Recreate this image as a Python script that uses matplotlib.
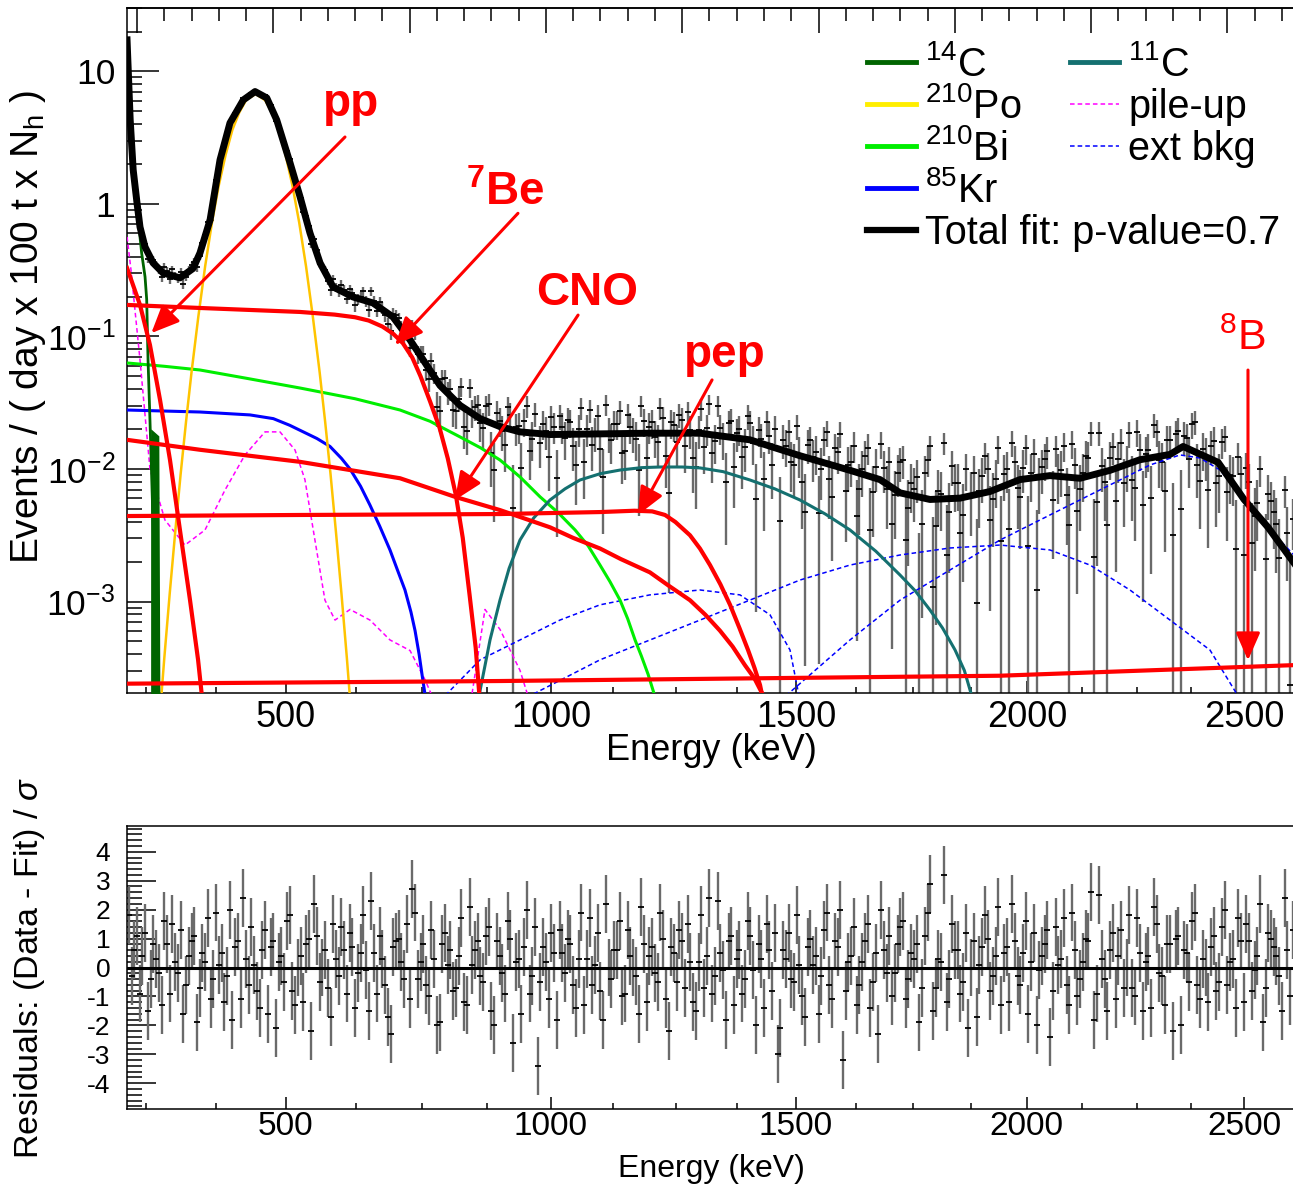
import numpy as np
import matplotlib
matplotlib.use('Agg')
import matplotlib.pyplot as plt
from matplotlib.lines import Line2D
from matplotlib.ticker import FixedLocator, FixedFormatter, NullFormatter

plt.rcParams['font.family'] = ['Liberation Sans', 'DejaVu Sans']
plt.rcParams['mathtext.fontset'] = 'custom'
plt.rcParams['mathtext.rm'] = 'Liberation Sans'
plt.rcParams['mathtext.it'] = 'Liberation Sans:italic'
plt.rcParams['mathtext.bf'] = 'Liberation Sans:bold'
plt.rcParams['mathtext.sf'] = 'Liberation Sans'
plt.rcParams['axes.unicode_minus'] = False

# ---------------- energy axis (labels placed at N_h positions) ----------------
energy_major = [500, 1000, 1500, 2000, 2500]
energy_major_nh = [209.1, 403.7, 583.5, 752.8, 912.2]
energy_minor = [250, 375, 625, 750, 875, 1125, 1250, 1375, 1625, 1750, 1875, 2125, 2250, 2375]
energy_minor_nh = [106.4, 158.2, 260.5, 309.1, 357.0, 449.5, 495.2, 540.0, 627.5, 669.1, 711.9,
                   793.1, 833.5, 873.1]

# ---------------- total fit (N_h, log10 value) ----------------
fit_nh = [92.7, 95.0, 97.2, 100.0, 102.2, 105.9, 111.8, 119.1, 131.5, 141.1, 146.2, 153.6, 160.9,
          168.2, 178.0, 186.6, 195.2, 202.5, 212.3, 219.6, 226.9, 234.3, 243.8, 258.5, 273.1, 287.8,
          300.3, 307.6, 322.3, 337.0, 351.7, 366.3, 381.0, 403.0, 439.7, 476.3, 513.1, 549.7, 586.4,
          623.1, 645.1, 659.8, 681.8, 703.8, 725.8, 747.8, 769.8, 791.9, 813.9, 835.9, 857.9, 867.5,
          893.2, 912.2, 929.8, 948.9]
fit_log10 = [1.238, 0.634, 0.257, 0.008, -0.174, -0.325, -0.445, -0.521, -0.558, -0.487, -0.370,
             -0.121, 0.332, 0.611, 0.785, 0.848, 0.800, 0.634, 0.309, 0.055, -0.219, -0.445, -0.626,
             -0.702, -0.747, -0.853, -1.026, -1.14, -1.37, -1.52, -1.62, -1.68, -1.72, -1.74, -1.735,
             -1.73, -1.73, -1.78, -1.90, -2.01, -2.08, -2.18, -2.23, -2.22, -2.17, -2.08, -2.05, -2.07,
             -2.01, -1.93, -1.89, -1.83, -1.95, -2.23, -2.44, -2.71]

# ---------------- data bins: two interleaved sets, each every 4 N_h ----------------
# set A at N_h = 94 + 4 i, set B at N_h = 96 + 4 i : fit value (log10) and residual per bin
bin_fit_log10_a = [
    0.90, 0.19, -0.16, -0.33, -0.41, -0.47, -0.51, -0.53, -0.54, -0.555,
    -0.55, -0.51, -0.47, -0.375, -0.24, -0.10, 0.15, 0.37, 0.53, 0.64,
    0.715, 0.785, 0.815, 0.845, 0.835, 0.81, 0.74, 0.645, 0.52, 0.385,
    0.25, 0.11, -0.035, -0.185, -0.315, -0.435, -0.515, -0.59, -0.638, -0.658,
    -0.678, -0.70, -0.713, -0.725, -0.737, -0.753, -0.782, -0.811, -0.84, -0.88,
    -0.94, -0.99, -1.05, -1.11, -1.18, -1.24, -1.30, -1.365, -1.41, -1.45,
    -1.49, -1.525, -1.55, -1.58, -1.61, -1.63, -1.645, -1.665, -1.68, -1.69,
    -1.70, -1.71, -1.72, -1.725, -1.73, -1.735, -1.74, -1.74, -1.74, -1.74,
    -1.74, -1.74, -1.735, -1.735, -1.735, -1.735, -1.735, -1.735, -1.73, -1.73,
    -1.73, -1.73, -1.73, -1.73, -1.73, -1.73, -1.73, -1.73, -1.73, -1.73,
    -1.73, -1.73, -1.73, -1.73, -1.73, -1.73, -1.74, -1.745, -1.75, -1.755,
    -1.76, -1.765, -1.77, -1.775, -1.78, -1.795, -1.81, -1.82, -1.835, -1.85,
    -1.86, -1.875, -1.885, -1.90, -1.91, -1.92, -1.935, -1.945, -1.96, -1.97,
    -1.98, -1.995, -2.005, -2.02, -2.03, -2.045, -2.06, -2.07, -2.085, -2.11,
    -2.14, -2.17, -2.185, -2.20, -2.21, -2.215, -2.225, -2.23, -2.23, -2.23,
    -2.225, -2.225, -2.22, -2.215, -2.205, -2.195, -2.19, -2.18, -2.17, -2.15,
    -2.135, -2.12, -2.10, -2.085, -2.075, -2.07, -2.065, -2.06, -2.055, -2.05,
    -2.055, -2.06, -2.065, -2.07, -2.07, -2.065, -2.055, -2.045, -2.035, -2.02,
    -2.01, -1.995, -1.98, -1.965, -1.95, -1.935, -1.925, -1.915, -1.91, -1.90,
    -1.895, -1.89, -1.86, -1.835, -1.835, -1.85, -1.87, -1.89, -1.91, -1.935,
    -1.96, -2.02, -2.08, -2.14, -2.20, -2.25, -2.30, -2.35, -2.40, -2.44,
    -2.50, -2.56, -2.63, -2.69]

bin_fit_log10_b = [
    0.45, 0.01, -0.25, -0.37, -0.445, -0.49, -0.52, -0.535, -0.548, -0.555,
    -0.53, -0.49, -0.42, -0.31, -0.17, 0.02, 0.26, 0.45, 0.585, 0.68,
    0.75, 0.80, 0.83, 0.845, 0.825, 0.78, 0.695, 0.585, 0.455, 0.32,
    0.18, 0.04, -0.11, -0.25, -0.375, -0.475, -0.555, -0.615, -0.648, -0.668,
    -0.689, -0.706, -0.719, -0.731, -0.745, -0.767, -0.796, -0.825, -0.86, -0.91,
    -0.965, -1.02, -1.08, -1.145, -1.21, -1.27, -1.333, -1.387, -1.43, -1.47,
    -1.508, -1.537, -1.565, -1.595, -1.62, -1.638, -1.655, -1.672, -1.685, -1.695,
    -1.705, -1.715, -1.722, -1.728, -1.732, -1.738, -1.74, -1.74, -1.74, -1.74,
    -1.74, -1.738, -1.735, -1.735, -1.735, -1.735, -1.735, -1.732, -1.73, -1.73,
    -1.73, -1.73, -1.73, -1.73, -1.73, -1.73, -1.73, -1.73, -1.73, -1.73,
    -1.73, -1.73, -1.73, -1.73, -1.73, -1.735, -1.742, -1.748, -1.752, -1.757,
    -1.762, -1.767, -1.772, -1.777, -1.787, -1.802, -1.815, -1.827, -1.842, -1.855,
    -1.867, -1.88, -1.892, -1.905, -1.915, -1.927, -1.94, -1.952, -1.965, -1.975,
    -1.987, -2.0, -2.012, -2.025, -2.037, -2.052, -2.065, -2.077, -2.097, -2.125,
    -2.155, -2.177, -2.192, -2.205, -2.212, -2.22, -2.228, -2.23, -2.23, -2.228,
    -2.225, -2.222, -2.217, -2.21, -2.2, -2.192, -2.185, -2.175, -2.16, -2.142,
    -2.127, -2.11, -2.092, -2.08, -2.072, -2.067, -2.062, -2.057, -2.052, -2.052,
    -2.057, -2.062, -2.067, -2.07, -2.067, -2.06, -2.05, -2.04, -2.027, -2.015,
    -2.002, -1.987, -1.972, -1.957, -1.942, -1.93, -1.92, -1.912, -1.905, -1.897,
    -1.892, -1.875, -1.847, -1.832, -1.842, -1.86, -1.88, -1.90, -1.922, -1.947,
    -1.99, -2.05, -2.11, -2.17, -2.225, -2.275, -2.325, -2.375, -2.42, -2.47,
    -2.53, -2.595, -2.66, -2.72]

residuals_a = [
    1.8, 0.6, -0.9, 1.2, -0.4, 0.3, -1.3, 0.8, 1.5, -0.2, -1.6, 0.4, 1.1, -0.7, 0.2, -1.1, 1.9, 0.5, -0.3, -1.8,
    0.9, 2.4, -0.6, 0.1, -1.4, 1.3, 0.7, -2.1, 0.4, 1.6, -0.8, 0.0, -1.2, 1.0, 2.2, -0.5, 0.6, -1.7, 0.3, 1.4,
    -0.9, 0.7, -0.2, 1.8, -1.5, 0.5, 1.1, -0.6, -2.3, 0.9, 0.2, 1.5, 2.7, -0.4, 0.8, -1.0, 0.3, -1.9, 1.2, 0.6,
    -0.7, 1.7, -1.3, 0.1, 0.9, -0.5, 1.4, -2.0, 0.4, -0.9, 1.0, 0.2, -1.6, 2.0, -0.3, -3.4, 0.7, -1.1, 0.5, 1.3,
    -0.2, 0.8, -1.4, 1.9, 0.3, -0.6, 1.2, -1.8, 0.0, 0.6, 1.6, -0.9, 0.4, -0.3, 2.1, -1.2, 0.7, -0.5, 1.0, -2.2,
    0.5, 1.3, -0.7, 0.2, -1.5, 1.8, 0.4, -0.9, 2.3, -0.1, 0.9, -1.3, 0.6, -0.4, 1.1, -2.0, 0.3, 1.5, -0.8, -3.0,
    0.6, 1.2, -0.5, 0.1, -1.7, 1.0, 0.4, -0.3, 1.9, -1.1, 0.7, -3.2, 0.2, 1.4, -0.6, 0.9, -1.4, 0.5, 2.0, -0.2,
    -1.0, 0.8, 1.6, -0.4, 0.3, -1.9, 1.1, 2.9, -0.7, 0.2, -1.2, 1.5, 0.6, -0.5, -2.1, 0.9, 0.1, 1.8, -0.8, 0.4,
    -1.3, 0.7, 2.2, -0.3, 0.5, -1.6, 1.2, -0.1, 0.8, -2.4, 1.4, 0.3, -0.6, 1.9, -1.0, 0.2, 0.9, -1.8, 2.5, -0.4,
    0.6, -1.1, 1.3, 0.0, -0.7, 1.7, -1.5, 0.4, 2.1, -0.2, -1.3, 0.8, 1.0, -2.0, 0.5, 1.6, -0.6, 0.3, -1.2, 1.1,
    -0.5, 2.0, 0.2, -1.4, 0.9, 1.5, -0.8, 0.4, -1.9, 1.2, 0.7, -0.3, 2.4, -1.0]

residuals_b = [
    -0.3, 1.1, 0.4, -1.5, 0.8, -0.2, 1.6, -0.9, 0.2, 1.3, -0.6, 0.9, -1.9, 0.5, 1.7, -0.4, 0.1, -1.2, 2.0, 0.7,
    -1.1, 0.3, 1.4, -0.8, 0.6, -1.6, 0.9, 0.2, -0.5, 1.8, -1.3, 0.4, 0.8, -2.2, 1.1, 0.0, -0.7, 1.5, -0.3, 0.6,
    1.2, -1.4, 0.5, -0.1, 2.3, -0.9, 0.3, -1.7, 0.7, 1.0, -0.4, -1.1, 1.9, 0.2, -0.6, 1.3, -2.0, 0.8, 0.1, -0.8,
    0.4, -1.2, 2.1, 0.6, -0.3, 1.1, -1.5, 0.9, -0.2, 1.6, -2.6, 0.3, 0.7, -0.9, 1.4, -0.5, 0.2, 1.2, -1.8, 0.5,
    1.0, -0.6, 0.3, -1.3, 1.7, 0.1, -0.8, 2.2, -0.4, 0.6, -1.0, 1.3, 0.0, -1.6, 0.8, 0.4, -0.2, 1.9, -1.1, 0.7,
    -0.5, 0.9, 1.5, -1.2, 0.2, -0.7, 2.4, -0.3, 0.5, -1.8, 1.1, 0.3, -0.9, 1.6, -0.1, 0.8, -1.4, 0.6, 1.2, -2.1,
    0.3, -0.4, 1.8, -1.0, 0.7, 0.1, -1.6, 1.3, -0.6, 0.9, 2.0, -0.8, 0.4, -1.3, 0.2, 1.5, -0.5, -2.3, 0.6, 1.1,
    -0.2, 1.4, -1.1, 0.5, 0.8, -0.7, 1.9, -1.5, 0.3, 3.2, -0.4, 0.6, -0.9, 1.2, 0.0, -1.7, 0.7, 1.0, -0.3, 2.1,
    0.5, -1.2, 0.9, -0.6, 1.6, 0.2, -2.0, 0.4, 1.3, -0.8, 0.1, 1.7, -1.3, 0.6, -0.4, 1.0, 2.6, -0.9, 0.3, -1.5,
    1.2, 0.4, -0.7, 1.8, -1.0, 0.5, 0.2, -1.4, 1.5, -0.3, 0.8, -2.2, 1.1, 0.6, -0.5, 1.9, -1.1, 0.0, 0.7, -0.8,
    1.4, -0.6, 0.3, 1.7, -1.2, 0.9, -0.1, 2.2, -0.7, 1.0, 0.4, -1.5, 0.6, 1.3]

bin_step_nh = 4
first_bin_nh_a = 94
first_bin_nh_b = 96
event_unit = 1.6e-3   # value of one event in a bin (Poisson errors)

# ---------------- components (N_h, log10 value) ----------------
c14_nh = [92.7, 97.1, 100.7, 103.4, 105.9, 107.1, 108.1, 109.5, 111.7, 113.9, 115.4]
c14_log10 = [1.14, 0.20, -0.10, -0.37, -0.55, -0.72, -1.18, -1.63, -2.38, -3.14, -3.75]
c14_band_nh = [110.0, 110.5, 116.0, 116.8]
c14_band_log10 = [-1.70, -1.70, -1.75, -3.75]

po210_nh = [116, 120, 124, 128, 132, 136, 140, 145, 150, 155, 160, 165, 170, 175, 180, 187, 194,
            199, 204, 209, 214, 219, 224, 229, 234, 238, 242, 246, 250, 254, 258]
po210_log10 = [-3.96, -3.43, -2.94, -2.48, -2.04, -1.64, -1.27, -0.85, -0.47, -0.14, 0.14, 0.37,
               0.56, 0.69, 0.783, 0.83, 0.783, 0.69, 0.56, 0.37, 0.14, -0.14, -0.47, -0.85, -1.27,
               -1.64, -2.04, -2.48, -2.94, -3.43, -3.96]

bi210_nh = [92.7, 120, 146.2, 180, 219.6, 260, 293, 315, 337, 352, 366.3, 381, 395.7, 409, 421.4,
            431, 439.7, 447, 454.4, 460, 465.4, 470, 475, 481]
bi210_log10 = [-1.20, -1.225, -1.253, -1.315, -1.389, -1.47, -1.555, -1.64, -1.758, -1.84, -1.932,
               -2.06, -2.21, -2.33, -2.46, -2.58, -2.725, -2.85, -2.99, -3.13, -3.29, -3.41, -3.55,
               -3.75]

kr85_nh = [92.7, 146.2, 182.9, 200, 212, 222, 232, 241.6, 250, 256.3, 264, 270.9, 278, 285.6, 291,
           296.6, 301, 304, 307, 309.1, 312]
kr85_log10 = [-1.555, -1.57, -1.592, -1.62, -1.67, -1.72, -1.77, -1.83, -1.92, -2.0, -2.13, -2.272,
              -2.43, -2.611, -2.76, -2.913, -3.08, -3.22, -3.40, -3.55, -3.75]

c11_nh = [350.2, 355, 359, 366.3, 373, 381, 391, 403, 414, 425, 440, 454.4, 470, 483.7, 500, 513.1,
          530, 549.7, 568, 586.4, 605, 623.1, 642, 659.8, 671, 681.8, 691, 700.2, 707, 713.5]
c11_log10 = [-3.75, -3.50, -3.29, -2.99, -2.75, -2.536, -2.37, -2.234, -2.15, -2.083, -2.035, -2.008,
             -1.99, -1.985, -1.985, -1.992, -2.02, -2.083, -2.15, -2.234, -2.34, -2.46, -2.62, -2.80,
             -2.92, -3.064, -3.20, -3.366, -3.52, -3.75]

pileup_nh = [92.7, 95.6, 98.5, 102.2, 109.5, 120.5, 135.2, 149.9, 164.5, 179.2, 193.9, 204.9, 215.9,
             223.2, 230.6, 237.9, 245.3, 256.3, 270.9, 285.6, 300.3, 311.3, 318.0]
pileup_log10 = [-0.249, -0.498, -0.80, -1.177, -2.0, -2.385, -2.574, -2.46, -2.16, -1.894, -1.72,
                -1.72, -1.856, -2.08, -2.54, -2.99, -3.14, -3.06, -3.14, -3.29, -3.37, -3.59, -3.75]
pileup2_nh = [345.0, 355.3, 366.3, 381.0, 388.0]
pileup2_log10 = [-3.75, -3.06, -3.21, -3.52, -3.75]

ext_a_nh = [322.3, 351.7, 381.0, 410.3, 439.7, 476.3, 513.1, 542.4, 564.4, 579.1, 586.4]
ext_a_log10 = [-3.75, -3.44, -3.29, -3.14, -3.025, -2.95, -2.913, -2.95, -3.10, -3.366, -3.75]
ext_b_nh = [381.0, 439.7, 513.1, 586.4, 623.1, 659.8, 696.5, 733.2, 769.8, 799.2, 828.5, 857.9, 887.2,
            910.0]
ext_b_log10 = [-3.75, -3.44, -3.14, -2.838, -2.725, -2.649, -2.596, -2.574, -2.611, -2.725, -2.913,
               -3.14, -3.366, -3.75]
ext_c_nh = [571.8, 623.1, 659.8, 696.5, 733.2, 769.8, 806.5, 843.2, 865.2, 879.9, 894.6, 912.9, 931.2,
            948.9]
ext_c_log10 = [-3.75, -3.29, -2.99, -2.762, -2.536, -2.347, -2.158, -1.97, -1.894, -1.917, -2.008,
               -2.234, -2.46, -2.65]

pp_nh = [92.7, 102.2, 109.5, 116.9, 124.2, 131.5, 138.9, 144.8, 148.0]
pp_log10 = [-0.483, -0.762, -1.064, -1.479, -1.932, -2.46, -2.99, -3.44, -3.75]

be7_nh = [92.7, 146.2, 219.6, 245, 260, 270, 280, 288, 295, 302, 308, 315, 322, 328, 334, 339, 344,
          348.5, 351.5]
be7_log10 = [-0.762, -0.785, -0.815, -0.835, -0.855, -0.88, -0.925, -0.98, -1.05, -1.16, -1.30, -1.49,
             -1.69, -1.92, -2.20, -2.52, -2.95, -3.35, -3.75]

cno_nh = [92.7, 146.2, 219.6, 293.0, 333.3, 366.3, 403.0, 420, 439.7, 455, 476.3, 490, 505.7, 517,
          527.7, 537, 546.0, 553, 561.5]
cno_log10 = [-1.78, -1.855, -1.946, -2.07, -2.21, -2.31, -2.44, -2.52, -2.60, -2.68, -2.78, -2.88,
             -2.99, -3.10, -3.22, -3.34, -3.48, -3.58, -3.75]

pep_nh = [92.7, 219.6, 366.3, 439.7, 465, 478, 487.4, 495, 505.7, 513, 520.4, 528, 535.1, 542,
          548.3, 553, 557.1, 559.5]
pep_log10 = [-2.355, -2.347, -2.34, -2.325, -2.315, -2.32, -2.347, -2.40, -2.50, -2.60, -2.725, -2.87,
             -3.025, -3.20, -3.366, -3.50, -3.63, -3.75]

b8_nh = [92.7, 366.3, 733.2, 948.9]
b8_log10 = [-3.62, -3.60, -3.56, -3.48]

# ---------------- figure ----------------
W, H = 1293, 1185
fig = plt.figure(figsize=(W / 100, H / 100), dpi=100)


def fx(px):
    return px / W


def fy(py):
    return 1 - py / H


XLIM = (92.66, 948.86)
ax = fig.add_axes([fx(127), fy(693), fx(1294) - fx(127), fy(8) - fy(693)])
axr = fig.add_axes([fx(127), fy(1109), fx(1294) - fx(127), fy(826) - fy(1109)])

RED = '#ff0000'
GRAY = '#6a6a6a'
TICK_FS = 26
BAR_LW = 1.7

# data points (both interleaved bin sets)
bins = []
for first, fit_l, res_l in [(first_bin_nh_a, bin_fit_log10_a, residuals_a),
                            (first_bin_nh_b, bin_fit_log10_b, residuals_b)]:
    f = 10 ** np.array(fit_l)
    r = np.array(res_l)
    m = min(len(f), len(r))
    f, r = f[:m], r[:m]
    x = first + bin_step_nh * np.arange(m)
    bins.append((x, f, r))

for x, f, r in bins:
    sigma = np.sqrt(f * event_unit)
    data = f + r * sigma
    lo = np.clip(data - sigma, 1e-6, None)
    hi = data + sigma
    ok = data > 0
    ax.vlines(x[ok], lo[ok], hi[ok], color=GRAY, lw=BAR_LW, zorder=2)
    ax.plot(x[ok], data[ok], ls='none', marker='_', ms=4, mew=1.3, color='black', zorder=2.2)


def comp(x, lg, **kw):
    ax.plot(x, 10 ** np.array(lg), **kw)


dash = (0, (3.0, 2.0))
comp(pileup_nh, pileup_log10, color='#ff00ff', lw=1.1, ls=dash, zorder=3)
comp(pileup2_nh, pileup2_log10, color='#ff00ff', lw=1.1, ls=dash, zorder=3)
comp(ext_a_nh, ext_a_log10, color='#0000ff', lw=1.1, ls=dash, zorder=3)
comp(ext_b_nh, ext_b_log10, color='#0000ff', lw=1.1, ls=dash, zorder=3)
comp(ext_c_nh, ext_c_log10, color='#0000ff', lw=1.1, ls=dash, zorder=3)
comp(kr85_nh, kr85_log10, color='#0000ff', lw=2.2, zorder=3)
comp(bi210_nh, bi210_log10, color='#00ee00', lw=2.2, zorder=3)
comp(c11_nh, c11_log10, color='#147070', lw=2.2, zorder=3)
comp(po210_nh, po210_log10, color='#ffc400', lw=1.8, zorder=3)
comp(c14_nh, c14_log10, color='#006400', lw=2.0, zorder=3)
ax.fill_between(c14_band_nh, 1e-6, 10 ** np.array(c14_band_log10), color='#006400', lw=0, zorder=3)
for x, lg in [(pp_nh, pp_log10), (be7_nh, be7_log10), (cno_nh, cno_log10), (pep_nh, pep_log10),
              (b8_nh, b8_log10)]:
    comp(x, lg, color=RED, lw=3.0, zorder=3.5)
comp(fit_nh, fit_log10, color='black', lw=5.0, zorder=4, solid_joinstyle='round')

ax.set_yscale('log')
ax.set_xlim(*XLIM)
ax.set_ylim(2.04e-4, 30.1)

# axes styling (top panel)
for sp in ax.spines.values():
    sp.set_linewidth(1.1)
ax.xaxis.set_major_locator(FixedLocator(energy_major_nh))
ax.xaxis.set_major_formatter(FixedFormatter([str(e) for e in energy_major]))
ax.xaxis.set_minor_locator(FixedLocator(energy_minor_nh))
ax.xaxis.set_minor_formatter(NullFormatter())
ax.yaxis.set_major_locator(FixedLocator([1e-3, 1e-2, 1e-1, 1, 10]))
ax.yaxis.set_major_formatter(FixedFormatter([r'$10^{-3}$', r'$10^{-2}$', r'$10^{-1}$', '1', '10']))
ax.yaxis.set_minor_locator(FixedLocator([m * 10.0 ** d for d in range(-4, 2) for m in range(2, 10)]))
ax.yaxis.set_minor_formatter(NullFormatter())
ax.tick_params(axis='x', which='major', direction='in', length=8.5, width=1.1, labelsize=TICK_FS,
               pad=5, top=False)
ax.tick_params(axis='x', which='minor', direction='in', length=4.5, width=1.1, top=False)
ax.tick_params(axis='y', which='major', direction='in', length=23, width=1.1, labelsize=25.5,
               pad=8.5, right=False)
ax.tick_params(axis='y', which='minor', direction='in', length=11, width=1.1, right=False)

sec = ax.secondary_xaxis('top', functions=(lambda v: v, lambda v: v))
sec.set_xticks(list(range(100, 1000, 100)))
sec.xaxis.set_minor_locator(FixedLocator(list(range(100, 960, 20))))
sec.tick_params(which='major', direction='in', length=18, width=1.1, labeltop=False)
sec.tick_params(which='minor', direction='in', length=9.5, width=1.1)
sec.spines['top'].set_linewidth(1.1)

# annotations
arrow_kw = dict(arrowstyle='-|>,head_length=0.5,head_width=0.22', color=RED, lw=2.2,
                mutation_scale=34, shrinkA=0, shrinkB=0)
arrows = [  # (start N_h, start value, tip N_h, tip value)
    (252.6, 3.2, 110.5, 0.106),
    (379.5, 0.85, 289.3, 0.0863),
    (423.6, 0.145, 333.3, 0.00583),
    (521.9, 0.047, 467.6, 0.0045),
    (915.1, 0.0558, 915.1, 0.00036),
]
for x0, y0, x1, y1 in arrows:
    ax.annotate('', xy=(x1, y1), xytext=(x0, y0), arrowprops=arrow_kw, zorder=5)

labels = [  # (text, N_h, value at baseline, bold)
    ('pp', 257.4, 10 ** (1 - (115.6 - 71.5) / 132.5), True),
    (r'$^{\mathbf{7}}$Be', 370.0, 10 ** (1 - (205 - 71.5) / 132.5), True),
    ('CNO', 430.2, 10 ** (1 - (305 - 71.5) / 132.5), True),
    ('pep', 531.4, 10 ** (1 - (367 - 71.5) / 132.5), True),
    (r'$^{8}$B', 910.7, 10 ** (1 - (350 - 71.5) / 132.5), False),
]
for t, x, y, b in labels:
    ax.text(x, y, t, color=RED, fontsize=33 if b else 31, fontweight='bold' if b else 'normal',
            ha='center', va='baseline', zorder=6)

# legend (drawn as figure artists)
leg_rows = [
    (867, 916, 925, 62, '#006400', 3.5, '-', r'$^{14}$C'),
    (867, 916, 925, 104, '#ffee00', 3.5, '-', r'$^{210}$Po'),
    (867, 916, 925, 146, '#00ee00', 3.5, '-', r'$^{210}$Bi'),
    (867, 916, 925, 188, '#0000ff', 3.5, '-', r'$^{85}$Kr'),
    (867, 916, 925, 230, 'black', 4.5, '-', 'Total fit: p-value=0.7'),
    (1070, 1119, 1128, 62, '#147070', 3.5, '-', r'$^{11}$C'),
    (1070, 1119, 1128, 104, '#ff00ff', 1.1, (0, (3, 2)), 'pile-up'),
    (1070, 1119, 1128, 146, '#0000ff', 1.1, (0, (3, 2)), 'ext bkg'),
]
for x0, x1, xt, yr, col, lw, ls, lab in leg_rows:
    fig.add_artist(Line2D([fx(x0), fx(x1)], [fy(yr), fy(yr)], color=col, lw=lw, ls=ls,
                          transform=fig.transFigure))
    fig.text(fx(xt), fy(yr + 14), lab, fontsize=28.5, ha='left', va='baseline')

# residual panel
for x, f, r in bins:
    axr.vlines(x, r - 1, r + 1, color=GRAY, lw=BAR_LW, zorder=2)
    axr.plot(x, r, ls='none', marker='_', ms=4, mew=1.3, color='black', zorder=3)
axr.axhline(0, color='black', lw=2.2, zorder=4)
axr.set_xlim(*XLIM)
axr.set_ylim(-4.89, 4.89)
for sp in axr.spines.values():
    sp.set_linewidth(1.1)
axr.xaxis.set_major_locator(FixedLocator(energy_major_nh))
axr.xaxis.set_major_formatter(FixedFormatter([str(e) for e in energy_major]))
axr.xaxis.set_minor_locator(FixedLocator(energy_minor_nh))
axr.xaxis.set_minor_formatter(NullFormatter())
axr.yaxis.set_major_locator(FixedLocator(list(range(-4, 5))))
axr.yaxis.set_major_formatter(FixedFormatter([str(v) for v in range(-4, 5)]))
axr.yaxis.set_minor_locator(FixedLocator([v / 5 for v in range(-24, 25) if v % 5]))
axr.yaxis.set_minor_formatter(NullFormatter())
axr.tick_params(axis='x', which='major', direction='in', length=8.5, width=1.1, labelsize=24,
                pad=1.5, top=False)
axr.tick_params(axis='x', which='minor', direction='in', length=4.5, width=1.1, top=False)
axr.tick_params(axis='y', which='major', direction='in', length=21, width=1.1, labelsize=19,
                pad=12, right=False)
axr.tick_params(axis='y', which='minor', direction='in', length=11, width=1.1, right=False)

# axis titles
fig.text(fx(711), fy(750), 'Energy (keV)', fontsize=26, ha='center', va='center')
fig.text(fx(711), fy(1184.5), 'Energy (keV)', fontsize=23, ha='center', va='bottom')
fig.text(fx(28), fy(327), r'Events / ( day x 100 t x N$_{\mathrm{h}}$ )', fontsize=28,
         rotation=90, ha='center', va='center')
fig.text(fx(30), fy(968), r'Residuals: (Data - Fit) / $\sigma$', fontsize=24.5, rotation=90,
         ha='center', va='center')

fig.savefig('out.png', dpi=100)
